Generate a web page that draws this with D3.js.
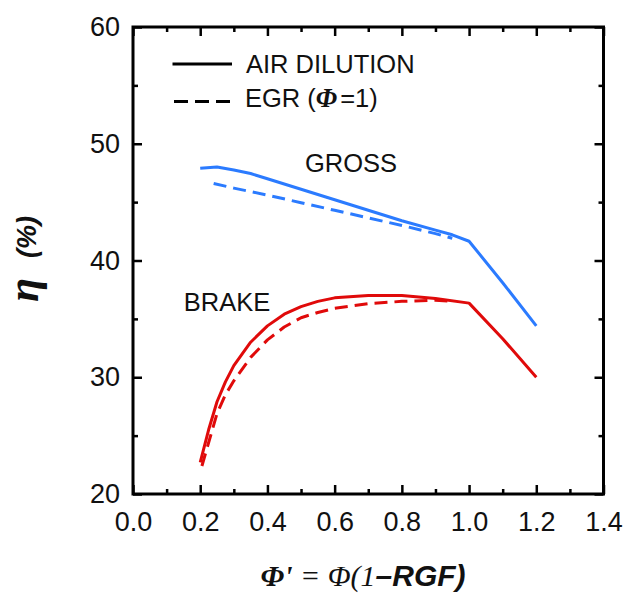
<!DOCTYPE html>
<html>
<head>
<meta charset="utf-8">
<script src="https://cdn.jsdelivr.net/npm/d3@7/dist/d3.min.js"></script>
<style>
  html, body { margin: 0; padding: 0; background: #fff; }
  svg { display: block; }
  .sans { font-family: "Liberation Sans", Arial, sans-serif; }
  .serif { font-family: "Liberation Serif", "Times New Roman", serif; }
</style>
</head>
<body>
<svg id="chart" width="626" height="598"></svg>
<script>
// Equivalence ratio Φ' and thermal efficiency η (%)
const grossAirX = [0.20, 0.25, 0.30, 0.35, 0.40, 0.50, 0.60, 0.70, 0.80, 0.90, 0.95, 1.00, 1.10, 1.20];
const grossAirY = [47.9, 48.0, 47.75, 47.45, 47.0, 46.1, 45.2, 44.3, 43.4, 42.6, 42.2, 41.65, 38.1, 34.4];

const grossEgrX = [0.24, 0.30, 0.40, 0.50, 0.60, 0.70, 0.80, 0.90, 0.95];
const grossEgrY = [46.6, 46.2, 45.6, 44.95, 44.3, 43.65, 43.0, 42.3, 41.9];

const brakeAirX = [0.20, 0.225, 0.25, 0.275, 0.30, 0.35, 0.40, 0.45, 0.50, 0.55, 0.60, 0.70, 0.80, 0.90, 1.00, 1.10, 1.20];
const brakeAirY = [22.7, 25.5, 27.9, 29.6, 31.0, 33.0, 34.4, 35.4, 36.05, 36.5, 36.8, 37.0, 37.0, 36.75, 36.35, 33.3, 30.0];

const brakeEgrX = [0.205, 0.25, 0.275, 0.30, 0.35, 0.40, 0.45, 0.50, 0.55, 0.60, 0.70, 0.80, 0.90, 0.95];
const brakeEgrY = [22.4, 26.9, 28.5, 29.7, 31.7, 33.2, 34.3, 35.1, 35.55, 35.9, 36.3, 36.5, 36.6, 36.5];

const xTicks = [0.0, 0.2, 0.4, 0.6, 0.8, 1.0, 1.2, 1.4];
const xMinor = [0.1, 0.3, 0.5, 0.7, 0.9, 1.1, 1.3];
const yTicks = [20, 30, 40, 50, 60];
const yMinor = [25, 35, 45, 55];

const BLUE = "#2b7bff";
const RED = "#e00a0a";

const svg = d3.select("#chart");
const plotL = 133, plotR = 603.5, plotT = 27, plotB = 494;

const x = d3.scaleLinear().domain([0, 1.4]).range([plotL, plotR]);
const y = d3.scaleLinear().domain([20, 60]).range([plotB, plotT]);

const line = d3.line().x(d => x(d[0])).y(d => y(d[1]));
const zip = (a, b) => a.map((v, i) => [v, b[i]]);

// curves
const series = [
  { xs: grossAirX, ys: grossAirY, color: BLUE, dash: null },
  { xs: grossEgrX, ys: grossEgrY, color: BLUE, dash: "13,7" },
  { xs: brakeAirX, ys: brakeAirY, color: RED, dash: null },
  { xs: brakeEgrX, ys: brakeEgrY, color: RED, dash: "13,7" }
];
series.forEach(s => {
  svg.append("path")
    .attr("d", line(zip(s.xs, s.ys)))
    .attr("fill", "none")
    .attr("stroke", s.color)
    .attr("stroke-width", 3)
    .attr("stroke-linejoin", "round")
    .attr("stroke-dasharray", s.dash);
});

// axes with inward ticks on all four sides
const axisStyle = g => {
  g.select(".domain").remove();
  g.selectAll(".tick line").attr("stroke", "#000").attr("stroke-width", 2.5);
  g.selectAll("text")
    .attr("class", "sans")
    .style("font-size", "27px")
    .attr("fill", "#111");
};

svg.append("g").attr("transform", `translate(0,${plotB})`)
  .call(d3.axisBottom(x).tickValues(xTicks).tickFormat(d3.format(".1f")).tickSizeInner(-9).tickPadding(18))
  .call(axisStyle)
  .call(g => g.selectAll("text").attr("dy", "0.71em"));
svg.append("g").attr("transform", `translate(0,${plotB})`)
  .call(d3.axisBottom(x).tickValues(xMinor).tickFormat("").tickSizeInner(-5))
  .call(axisStyle);
svg.append("g").attr("transform", `translate(0,${plotT})`)
  .call(d3.axisTop(x).tickValues(xTicks).tickFormat("").tickSizeInner(-9))
  .call(axisStyle);
svg.append("g").attr("transform", `translate(0,${plotT})`)
  .call(d3.axisTop(x).tickValues(xMinor).tickFormat("").tickSizeInner(-5))
  .call(axisStyle);

svg.append("g").attr("transform", `translate(${plotL},0)`)
  .call(d3.axisLeft(y).tickValues(yTicks).tickSizeInner(-9).tickPadding(13))
  .call(axisStyle)
  .call(g => g.selectAll("text").attr("x", -13));
svg.append("g").attr("transform", `translate(${plotL},0)`)
  .call(d3.axisLeft(y).tickValues(yMinor).tickFormat("").tickSizeInner(-5))
  .call(axisStyle);
svg.append("g").attr("transform", `translate(${plotR},0)`)
  .call(d3.axisRight(y).tickValues(yTicks).tickFormat("").tickSizeInner(-9))
  .call(axisStyle);
svg.append("g").attr("transform", `translate(${plotR},0)`)
  .call(d3.axisRight(y).tickValues(yMinor).tickFormat("").tickSizeInner(-5))
  .call(axisStyle);

// frame
svg.append("rect")
  .attr("x", plotL).attr("y", plotT)
  .attr("width", plotR - plotL).attr("height", plotB - plotT)
  .attr("fill", "none").attr("stroke", "#000").attr("stroke-width", 3);

// curve group labels
svg.append("text").attr("class", "sans")
  .attr("x", 351).attr("y", 171.5).attr("text-anchor", "middle")
  .style("font-size", "25.5px").attr("fill", "#111").text("GROSS");
svg.append("text").attr("class", "sans")
  .attr("x", 227).attr("y", 310.5).attr("text-anchor", "middle")
  .style("font-size", "25.5px").attr("fill", "#111").text("BRAKE");

// legend
svg.append("line").attr("x1", 172.5).attr("x2", 232).attr("y1", 64).attr("y2", 64)
  .attr("stroke", "#000").attr("stroke-width", 3);
svg.append("text").attr("class", "sans")
  .attr("x", 246).attr("y", 72.5).style("font-size", "25.5px").attr("fill", "#111")
  .text("AIR DILUTION");

svg.append("line").attr("x1", 174).attr("x2", 232).attr("y1", 101.5).attr("y2", 101.5)
  .attr("stroke", "#000").attr("stroke-width", 3).attr("stroke-dasharray", "14,7");
const egr = svg.append("text").attr("class", "sans")
  .attr("x", 245).attr("y", 107).style("font-size", "25.5px").attr("fill", "#111");
egr.append("tspan").text("EGR (");
egr.append("tspan").attr("class", "serif").style("font-style", "italic").style("font-weight", "bold")
  .style("font-size", "27px").text("Φ");
egr.append("tspan").attr("dx", 3).text("=1)");

// x-axis title
const xt = svg.append("text")
  .attr("x", 363).attr("y", 586).attr("text-anchor", "middle")
  .style("font-size", "30px").attr("fill", "#111");
xt.append("tspan").attr("class", "serif").style("font-style", "italic").style("font-weight", "bold").text("Φ'");
xt.append("tspan").attr("class", "serif").style("font-style", "italic").text(" = Φ(1");
xt.append("tspan").attr("class", "sans").style("font-style", "italic").style("font-weight", "bold").text("–RGF)");

// y-axis title
const yt = svg.append("text")
  .attr("transform", "translate(38,259) rotate(-90)")
  .attr("text-anchor", "middle").attr("fill", "#111");
yt.append("tspan").attr("class", "serif")
  .style("font-style", "italic").style("font-weight", "bold").style("font-size", "44px").text("η");
yt.append("tspan").attr("class", "sans").attr("dx", 20).attr("dy", -2)
  .style("font-style", "italic").style("font-weight", "bold").style("font-size", "27px").text("(%)");
</script>
</body>
</html>
